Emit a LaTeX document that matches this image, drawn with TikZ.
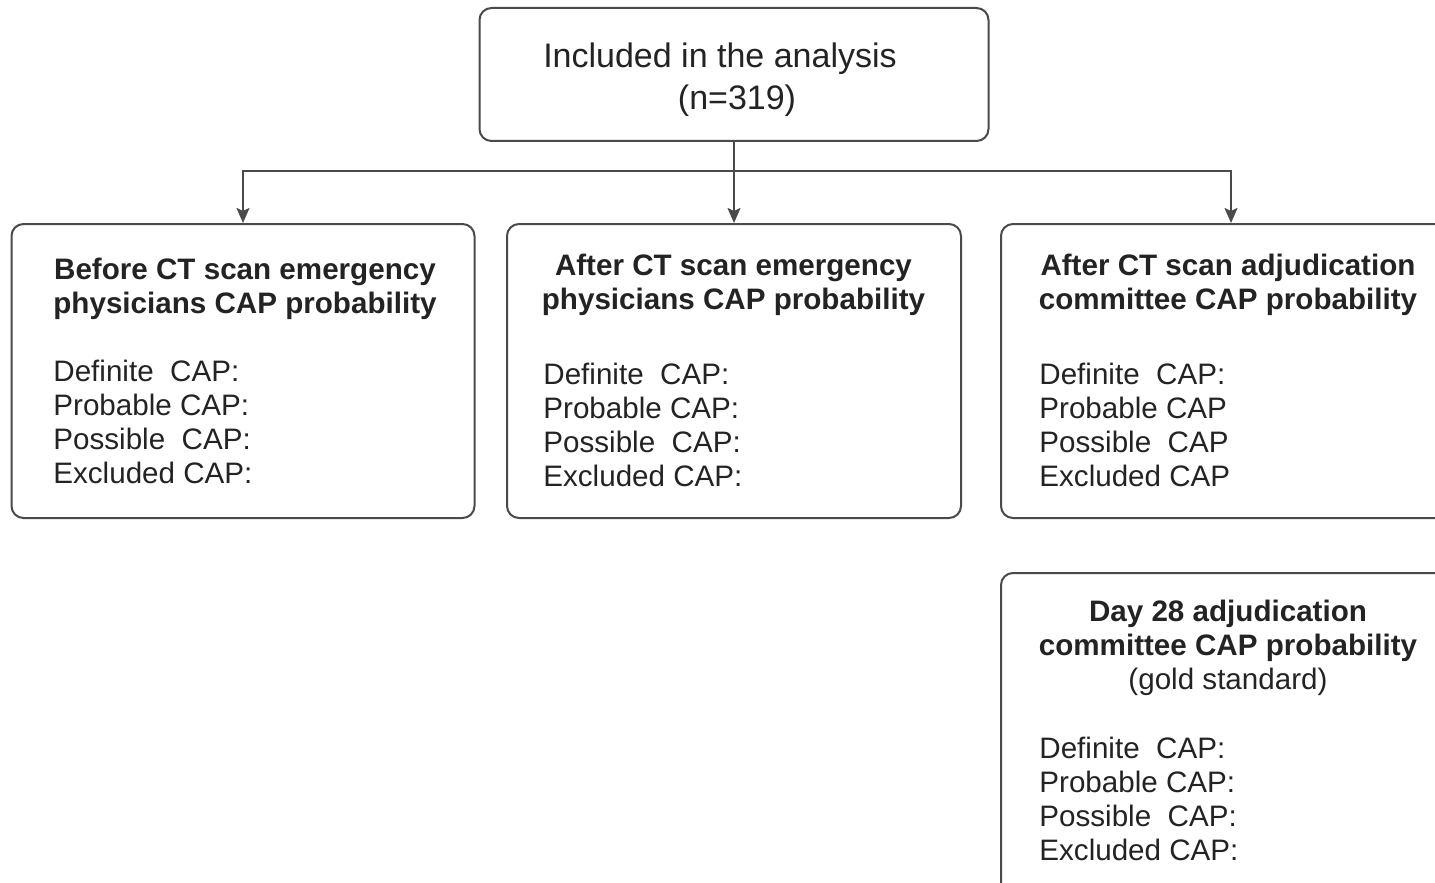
\documentclass[tikz,border=0pt]{standalone}
\usepackage{fontspec}
\setmainfont{Liberation Sans}
\usetikzlibrary{positioning,arrows.meta}
\definecolor{linegray}{HTML}{4A4A4A}
\definecolor{textgray}{HTML}{232323}

\begin{document}
\begin{tikzpicture}[x=0.5pt, y=-0.5pt,
  box/.style={draw=linegray, line width=1pt, rounded corners=6pt, inner sep=0pt},
  head/.style={font=\fontsize{14.8}{17}\selectfont\bfseries, align=center, anchor=north, inner sep=0pt, text=textgray},
  body/.style={font=\fontsize{14.8}{17}\selectfont, align=left, anchor=north west, inner sep=0pt, text=textgray},
  arr/.style={draw=linegray, line width=1pt, -{Stealth[length=7.5pt,width=6.5pt,inset=1.5pt]}}]
  \useasboundingbox (0,0) rectangle (1435,883);
  \clip (0,0) rectangle (1435,883);
  % top box
  \node[box, minimum width=254.5pt, minimum height=66.5pt] (incl) at (734,74.5) {};
  \node[font=\fontsize{17}{21}\selectfont, align=center, text=textgray, inner sep=0pt, anchor=north]
    (incltxt) at (720,42) {Included in the analysis\\\hspace*{17pt}(n=319)};
  % the three probability boxes
  \node[box, minimum width=231.5pt, minimum height=147pt] (before) at (243,371) {};
  \node[box, minimum width=227pt, minimum height=147pt] (afterEP) at (734,371) {};
  \node[box, minimum width=230pt, minimum height=147pt] (afterAC) at (1231,371) {};
  % gold standard box (runs off the page)
  \node[box, minimum width=230pt, minimum height=161pt] (day28) at (1231,734) {};
  % headings
  \node[head] (beforehd) at (245,258) {Before CT scan emergency\\physicians CAP probability};
  \node[head] (afterEPhd) at (733.5,253.5) {After CT scan emergency\\physicians CAP probability};
  \node[head] (afterAChd) at (1228,253.5) {After CT scan adjudication\\committee CAP probability};
  \node[head] (day28hd) at (1228,599.5) {Day 28 adjudication\\committee CAP probability\\{\mdseries (gold standard)}};
  % CAP categories
  \node[body] (beforetx) at (53,359.5) {Definite\ \ CAP:\\Probable CAP:\\Possible\ \ CAP:\\Excluded CAP:};
  \node[body] (afterEPtx) at (543,362.5) {Definite\ \ CAP:\\Probable CAP:\\Possible\ \ CAP:\\Excluded CAP:};
  \node[body] (afterACtx) at (1039,362.5) {Definite\ \ CAP:\\Probable CAP\\Possible\ \ CAP\\Excluded CAP};
  \node[body] (day28tx) at (1039,736.5) {Definite\ \ CAP:\\Probable CAP:\\Possible\ \ CAP:\\Excluded CAP:};
  % connectors
  \coordinate (split) at (734,171);
  \draw[arr] (incl.south) -- (afterEP.north);
  \draw[arr] (split) -| (before.north);
  \draw[arr] (split) -| (afterAC.north);
\end{tikzpicture}
\end{document}
